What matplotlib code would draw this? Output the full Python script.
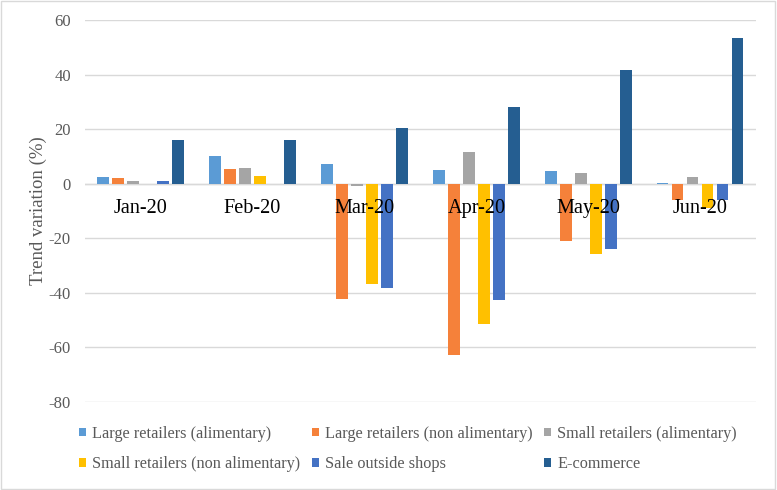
import matplotlib
matplotlib.use("Agg")
import matplotlib.pyplot as plt
import numpy as np
from matplotlib.patches import Rectangle

months = ["Jan-20", "Feb-20", "Mar-20", "Apr-20", "May-20", "Jun-20"]
series_names = [
    "Large retailers (alimentary)",
    "Large retailers (non alimentary)",
    "Small retailers (alimentary)",
    "Small retailers (non alimentary)",
    "Sale outside shops",
    "E-commerce",
]
large_alim = [2.4, 10.2, 7.3, 5.2, 4.5, 0.3]
large_non_alim = [2.2, 5.5, -42.4, -62.8, -21.2, -6.1]
small_alim = [1.0, 5.9, -1.0, 11.6, 4.1, 2.6]
small_non_alim = [-0.3, 2.8, -36.7, -51.6, -25.8, -9.1]
sale_outside = [0.9, 0.0, -38.1, -42.8, -23.8, -6.1]
ecommerce = [16.1, 16.0, 20.5, 28.1, 41.6, 53.4]

values = [large_alim, large_non_alim, small_alim, small_non_alim,
          sale_outside, ecommerce]
colours = ["#5B9BD5", "#F5813A", "#A5A5A5", "#FFC000", "#4472C4", "#255E91"]

plt.rcParams["font.family"] = ["Liberation Serif", "DejaVu Serif"]
plt.rcParams["axes.unicode_minus"] = False

fig = plt.figure(figsize=(7.77, 4.9), dpi=100)
ax = fig.add_axes([0.109, 0.180, 0.864, 0.779])

x = np.arange(len(months))
step = 0.134
w = 0.105
bars = []
for i, (vals, c, name) in enumerate(zip(values, colours, series_names)):
    bars.append(ax.bar(x + (i - 2.5) * step, vals, w, color=c, label=name,
                       zorder=2))

ax.set_xlim(-0.5, len(months) - 0.5)
ax.set_ylim(-80, 60)
ax.set_yticks(range(-80, 61, 20))
ax.set_xticks([])
ax.tick_params(axis="y", length=0, labelsize=12, colors="#595959", pad=10)
ax.grid(True, axis="y", color="#D9D9D9", linewidth=1, zorder=0)
ax.axhline(0, color="#D9D9D9", linewidth=1, zorder=1)
for s in ax.spines.values():
    s.set_visible(False)

# month labels sit on the zero line, drawn over the bars like Excel does
for xi, m in zip(x, months):
    ax.text(xi, -5.8, m, ha="center", va="top", fontsize=14.6,
            color="black", zorder=5)

ax.set_ylabel("Trend variation (%)", fontsize=13.5, color="#595959",
              labelpad=1)

# Excel fills the legend row by row; matplotlib goes column by column
order = [0, 3, 1, 4, 2, 5]
fig.legend([bars[i] for i in order], [series_names[i] for i in order],
           loc="upper left", bbox_to_anchor=(0.1017, 0.131), ncol=3,
           frameon=False, fontsize=11.7, handlelength=0.45,
           handleheight=0.45, handletextpad=0.35, columnspacing=0.72,
           labelspacing=0.9, borderpad=0, borderaxespad=0,
           labelcolor="#595959")

fig.patches.append(Rectangle((0.001, 0.002), 0.997, 0.996,
                             transform=fig.transFigure, fill=False,
                             edgecolor="#D9D9D9", linewidth=1))

fig.savefig("out.png", dpi=100)
